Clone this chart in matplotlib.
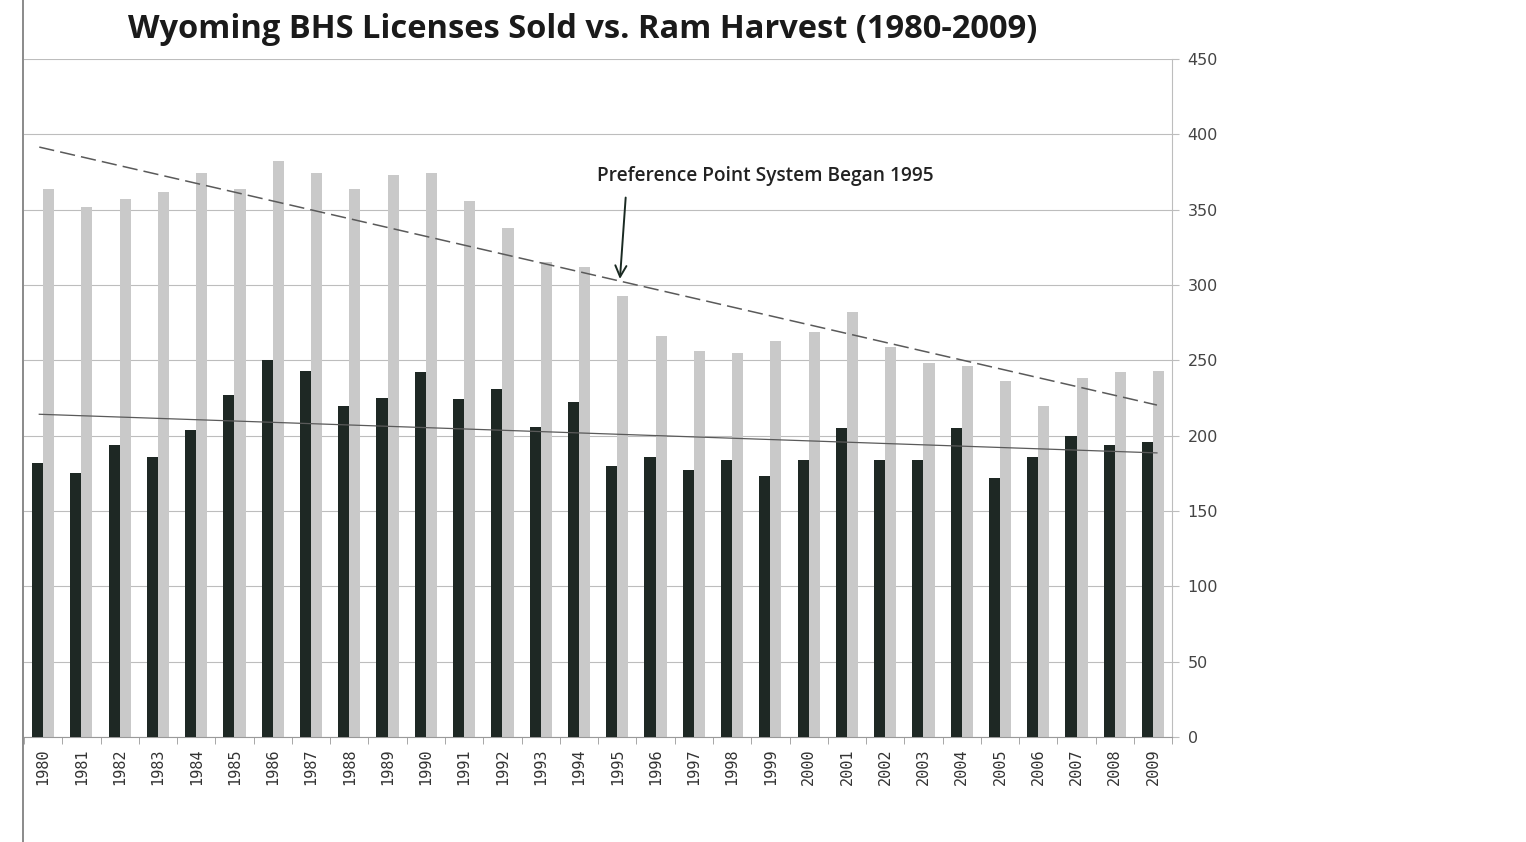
"""Wyoming BHS licenses sold vs. ram harvest, 1980-2009"""

import matplotlib.pyplot as plt
import numpy as np
from matplotlib.lines import Line2D

years = list(range(1980, 2010))
ram_harvest = [182, 175, 194, 186, 204, 227, 250, 243, 220, 225,
               242, 224, 231, 206, 222, 180, 186, 177, 184, 173,
               184, 205, 184, 184, 205, 172, 186, 200, 194, 196]
licenses_sold = [364, 352, 357, 362, 374, 364, 382, 374, 364, 373,
                 374, 356, 338, 315, 312, 293, 266, 256, 255, 263,
                 269, 282, 259, 248, 246, 236, 220, 238, 242, 243]
y_ticks = list(range(0, 451, 50))
title = "Wyoming BHS Licenses Sold vs. Ram Harvest (1980-2009)"
note = "Preference Point System Began 1995"

dark = "#1e2824"
light = "#c9c9c9"
grid_col = "#bdbdbd"

fig = plt.figure(figsize=(15.26, 8.42), dpi=100)
ax = fig.add_axes([0.0157, 0.1247, 0.7525, 0.8053])

x = np.arange(len(years))
w = 0.29
ax.bar(x - w / 2, ram_harvest, width=w, color=dark, zorder=3)
ax.bar(x + w / 2, licenses_sold, width=w, color=light, zorder=2)

## linear trend lines
for series, style, lw in [(licenses_sold, (0, (10, 4)), 1.1), (ram_harvest, "-", 0.9)]:
    k, b = np.polyfit(x, series, 1)
    xs = np.array([x[0] - 0.1, x[-1] + 0.1])
    ax.plot(xs, k * xs + b, color="#5a5a5a", linestyle=style, linewidth=lw, zorder=4)

ax.set_xlim(-0.5, len(years) - 0.5)
ax.set_ylim(0, 450)
ax.yaxis.tick_right()
ax.set_yticks(y_ticks)
ax.tick_params(axis="y", length=5, color=grid_col, labelsize=11.5,
               labelcolor="#444444", pad=6)
ax.grid(axis="y", color=grid_col, linewidth=0.8, zorder=0)

ax.set_xticks(x)
ax.set_xticklabels([str(y) for y in years], rotation=90, fontsize=11,
                   color="#333333", family="DejaVu Sans Mono")
ax.tick_params(axis="x", length=0, pad=8)
ax.set_xticks(np.arange(-0.5, len(years), 1), minor=True)
ax.tick_params(axis="x", which="minor", length=5, color="#999999")

for side in ["top", "left"]:
    ax.spines[side].set_visible(False)
ax.spines["right"].set_color(grid_col)
ax.spines["bottom"].set_color("#999999")

fig.text(0.0839, 0.965, title, fontsize=23.5, fontweight="bold",
         family="Open Sans", color="#1a1a1a", va="center", ha="left")

## annotation: text and arrow placed separately
ax.text(14.46, 372, note, fontsize=13.8, fontweight="semibold", family="Open Sans",
        color="#222222", ha="left", va="center")
ax.annotate("", xy=(15.07, 304), xytext=(15.22, 358),
            arrowprops=dict(arrowstyle="->", color="#1a2a22", lw=1.4,
                            mutation_scale=20, shrinkA=0, shrinkB=0))

## scanned chart border on the left
fig.add_artist(Line2D([0.0151, 0.0151], [0, 1], color="#777777", linewidth=1.2))

fig.savefig("out.png", dpi=100)
